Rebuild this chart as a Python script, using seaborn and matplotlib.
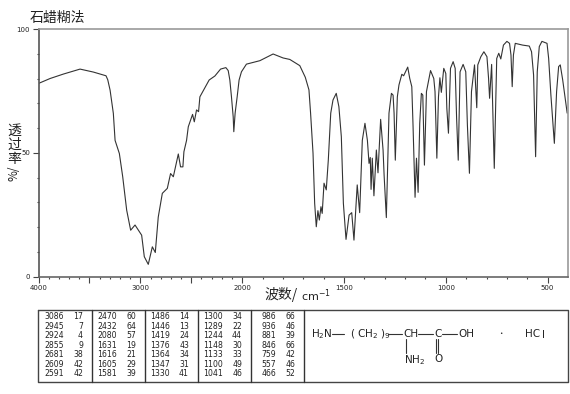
import numpy as np
import seaborn as sns
import matplotlib
matplotlib.use('Agg')
import matplotlib.pyplot as plt

# Spectrum
wavenumber = [4000, 3886, 3755, 3592, 3461, 3337, 3320, 3297, 3265, 3248, 3206, 3173, 3134, 3095, 3052, 2987, 2961,
              2922, 2882, 2853, 2824, 2784, 2735, 2703, 2676, 2627, 2605, 2582, 2572, 2546, 2529, 2487, 2470,
              2448, 2428, 2415, 2324, 2268, 2212, 2160, 2137, 2121, 2105, 2088, 2082, 2069, 2049, 2030, 2007, 1979,
              1913, 1848, 1799, 1766, 1717, 1690,
              1672, 1664, 1652, 1644, 1636, 1628, 1621, 1613, 1607, 1598, 1587, 1577, 1565, 1554, 1538, 1525, 1513,
              1503, 1490, 1475, 1462, 1451, 1435, 1423, 1410, 1397, 1385, 1377, 1371, 1367, 1361, 1353, 1341, 1333,
              1320, 1308, 1303, 1292, 1279, 1267, 1259, 1254, 1248, 1238, 1230, 1216, 1207, 1187, 1177, 1167, 1161,
              1151, 1144, 1136, 1128, 1120, 1113, 1105, 1095, 1075, 1059, 1053, 1044, 1036, 1029, 1022, 1010, 1000,
              995, 987, 977, 964, 954, 947, 939, 930, 915, 902, 894, 884, 874, 859, 851, 848, 843, 828, 813,
              798, 790, 785, 775, 762, 750, 740, 730, 717, 700, 687, 680, 674, 668, 659, 623, 590, 579, 569, 559,
              551, 541, 528, 503, 495, 484, 467, 456, 446, 438, 426, 404]
transmittance = [78, 80, 81.8, 83.8, 82.6, 81.1, 79.5, 75.3, 65.9, 55, 49.7, 40.3, 26.8, 18.7, 20.8, 16.7, 8,
                 4.9, 12, 9.7, 24, 33.6, 35.6, 41.6, 40.3, 49.5, 44.3, 44.3, 50.4, 55, 60.5, 65.5, 62.5,
                 67.3, 66.6, 72.6, 79.4, 81, 83.8, 84.4, 83.2, 79.4, 72.6, 64.5, 58.5, 66, 72.6, 79.4, 82.7, 85.8,
                 87.2, 89.9, 88.3, 87.7, 85.2, 80.5,
                 75.4, 66, 49.8, 29.6, 20.1, 26.6, 22.8, 28.2, 25.5, 37.7, 35, 47, 66, 71.3, 74, 68.6, 56.5,
                 29.6, 15, 24.8, 25.8, 14.7, 37, 25.8, 55, 61.9, 55, 45.7, 48.1, 35.2, 47.8, 32.6, 51.1, 41.9,
                 63.5, 51, 41, 23.8, 66, 74, 73.3, 66, 47, 72.6, 77.4, 81.7, 81.1, 84.6, 80, 76.7, 61.2,
                 32, 47.8, 34, 61.9, 74, 73.3, 45, 74.7, 83.2, 80, 74.7, 47.8, 72.6, 80.3, 74.4, 84.1, 82,
                 68, 57.9, 84.1, 86.8, 84.1, 64, 47, 82.7, 85.7, 82.7, 61.2, 41.7, 74.7, 85.5, 73.3, 68.2, 85.5, 88.8, 90.8,
                 88.8, 80, 72, 85.7, 43.7, 88.1, 90.2, 87.9, 93.5, 95, 94.2, 89.5, 76.7, 89.5, 94.2, 93.5, 93.1, 90.8, 81.4, 48.4,
                 82.7, 92.9, 95, 94.2, 88.1, 73.3, 53.8, 74.7, 84.8, 85.5, 79.4, 66]

# Peak table, one list per column
peak_cols = [
    [('3086', '17'), ('2945', '7'), ('2924', '4'), ('2855', '9'), ('2681', '38'), ('2609', '42'), ('2591', '42')],
    [('2470', '60'), ('2432', '64'), ('2080', '57'), ('1631', '19'), ('1616', '21'), ('1605', '29'), ('1581', '39')],
    [('1486', '14'), ('1446', '13'), ('1419', '24'), ('1376', '43'), ('1364', '34'), ('1347', '31'), ('1330', '41')],
    [('1300', '34'), ('1289', '22'), ('1244', '44'), ('1148', '30'), ('1133', '33'), ('1100', '49'), ('1041', '46')],
    [('986', '66'), ('936', '46'), ('881', '39'), ('846', '66'), ('759', '42'), ('557', '46'), ('466', '52')],
]

x_major = [4000, 3500, 3000, 2500, 2000, 1500, 1000, 500]
x_labels = ['4000', '', '3000', '', '2000', '1500', '1000', '500']
y_major = [0, 50, 100]

sns.set_style('white')
plt.rcParams['font.family'] = ['Noto Sans CJK SC', 'DejaVu Sans']

W, H = 570, 394
fig = plt.figure(figsize=(W / 100, H / 100), dpi=100)
ax = fig.add_axes([38.5 / W, 1 - 276.5 / H, 529.5 / W, 247.5 / H])

# the instrument halves the scale above 2000 cm-1
def forward(x):
    x = np.asarray(x, dtype=float)
    return np.where(x <= 2000, x, 2000 + (x - 2000) / 2)

def inverse(x):
    x = np.asarray(x, dtype=float)
    return np.where(x <= 2000, x, 2000 + (x - 2000) * 2)

ax.set_xscale('function', functions=(forward, inverse))
sns.lineplot(x=wavenumber, y=transmittance, sort=False, estimator=None, color='#333333', linewidth=0.8, ax=ax)
ax.set_xlim(4000, 400)
ax.set_ylim(0, 100)

ax.set_xticks(x_major)
ax.set_xticklabels(x_labels, fontsize=5, color='#222222', family='DejaVu Sans')
ax.set_xticks(np.arange(500, 4000, 100), minor=True)
ax.set_yticks(y_major)
ax.set_yticklabels(['0', '50', '100'], fontsize=5, color='#222222', family='DejaVu Sans')
ax.set_yticks(np.arange(0, 101, 10), minor=True)
ax.tick_params(axis='both', which='major', direction='out', length=4, width=0.8, color='#444444', pad=2,
               bottom=True, left=True)
ax.tick_params(axis='both', which='minor', direction='out', length=1.5, width=0.8, color='#444444',
               bottom=True, left=True)
for side, col in [('left', '#555555'), ('bottom', '#666666'), ('top', '#999999'), ('right', '#999999')]:
    ax.spines[side].set_color(col)
    ax.spines[side].set_linewidth(1.2)

# Overlay in pixel units for the headings, table and structure
ov = fig.add_axes([0, 0, 1, 1], facecolor='none')
ov.set_xlim(0, W)
ov.set_ylim(H, 0)
ov.axis('off')

ov.text(30, 18, '石蜡糊法', fontsize=10, color='#222222', va='center', ha='left')
for yp, ch in [(131, '透'), (145, '过'), (159, '率')]:
    ov.text(14, yp, ch, fontsize=10, color='#222222', va='center', ha='center')
ov.text(14, 173, '%/', fontsize=8.5, color='#222222', va='center', ha='center', rotation=90)
ov.text(264, 295, '波数/', fontsize=10, color='#222222', va='center', ha='left')
ov.text(301, 295.5, 'cm$^{-1}$', fontsize=8, color='#222222', va='center', ha='left', family='DejaVu Sans')

# Table frame
ov.plot([37.5, 568, 568, 37.5, 37.5], [310, 310, 381.5, 381.5, 310], color='#444444', lw=1)
col_x = [92, 144.5, 197.5, 250.5, 303.5]
for xp in col_x:
    ov.plot([xp, xp], [310, 381.5], color='#333333', lw=1)

num_right = [64, 117, 170, 223, 276]
val_right = [83, 136, 189, 242, 295]
for k, column in enumerate(peak_cols):
    for i, (num, val) in enumerate(column):
        yp = 316.8 + i * 9.45
        ov.text(num_right[k], yp, num, fontsize=5.6, ha='right', va='center', color='#222222', family='DejaVu Sans')
        ov.text(val_right[k], yp, val, fontsize=5.6, ha='right', va='center', color='#222222', family='DejaVu Sans')

# Structural formula
fs = 7.5
ts = dict(fontsize=fs, color='#222222', family='DejaVu Sans', va='center')
ov.text(311, 334, 'H$_2$N', ha='left', **ts)
ov.plot([332, 344], [333.5, 333.5], color='#333333', lw=0.8)
ov.text(350, 334, '( CH$_2$ )$_9$', ha='left', **ts)
ov.plot([388, 402], [333.5, 333.5], color='#333333', lw=0.8)
ov.text(403, 334, 'CH', ha='left', **ts)
ov.plot([418, 433], [333.5, 333.5], color='#333333', lw=0.8)
ov.text(434, 334, 'C', ha='left', **ts)
ov.plot([442, 457], [333.5, 333.5], color='#333333', lw=0.8)
ov.text(458, 334, 'OH', ha='left', **ts)
ov.text(501, 334, '•', ha='center', fontsize=4, color='#222222', family='DejaVu Sans', va='center')
ov.text(525, 334, 'HC', ha='left', **ts)
ov.text(542, 335, 'l', ha='left', **ts)
ov.plot([405.5, 405.5], [339, 353], color='#333333', lw=0.8)
ov.text(404, 360, 'NH$_2$', ha='left', **ts)
for xp in [435.5, 437.5]:
    ov.plot([xp, xp], [339, 353], color='#333333', lw=0.8)
ov.text(434.5, 359.5, 'O', ha='left', **ts)

fig.savefig('out.png', dpi=100)
